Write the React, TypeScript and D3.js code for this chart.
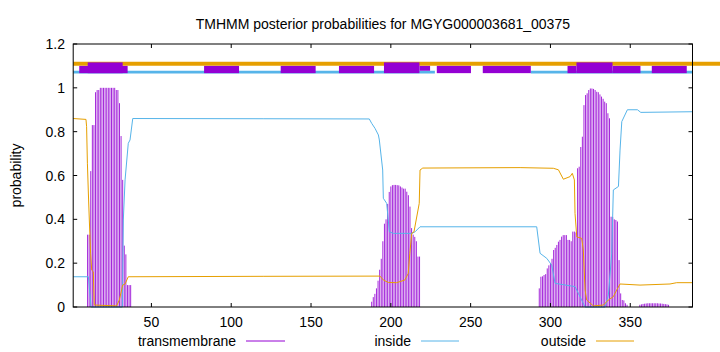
import React from 'react';
import * as d3 from 'd3';

const SEQ_START = 1;
const SEQ_END = 389;
const xTickValues = [50, 100, 150, 200, 250, 300, 350];
const yTickValues = [0, 0.2, 0.4, 0.6, 0.8, 1, 1.2];
const yTickLabels = ['0', '0.2', '0.4', '0.6', '0.8', '1', '1.2'];
const title = 'TMHMM posterior probabilities for MGYG000003681_00375';
const legendNames = ['transmembrane', 'inside', 'outside'];

// transmembrane posterior per residue, in runs: start residue + consecutive values
const tmRun1Start = 10;
const tmRun1 = [0.33, 0.33, 0.62, 0.83, 0.83, 0.98, 0.99, 0.99, 1, 1, 1, 1, 1, 1, 1, 1, 1, 1, 0.99, 0.99,
  0.93, 0.78, 0.58, 0.28, 0.24, 0.1, 0.1, 0.1];
const tmRun2Start = 188;
const tmRun2 = [0.024, 0.045, 0.06, 0.085, 0.12, 0.17, 0.22, 0.3, 0.38, 0.4, 0.47, 0.525, 0.55, 0.556, 0.557,
  0.557, 0.556, 0.555, 0.55, 0.545, 0.54, 0.54, 0.526, 0.51, 0.458, 0.36, 0.33, 0.32, 0.3, 0.23, 0.23];
const tmRun3Start = 293;
const tmRun3 = [0.085, 0.138, 0.14, 0.146, 0.15, 0.176, 0.19, 0.2, 0.22, 0.26, 0.27, 0.283, 0.298, 0.306, 0.321,
  0.328, 0.328, 0.328, 0.306, 0.306, 0.3, 0.344, 0.344, 0.34, 0.633, 0.64, 0.73, 0.777, 0.921, 0.967, 0.975,
  0.99, 0.997, 0.997, 0.995, 0.99, 0.982, 0.98, 0.97, 0.96, 0.95, 0.937, 0.93, 0.884, 0.861, 0.412, 0.41, 0.4,
  0.397, 0.39, 0.214, 0.062, 0.032, 0.03, 0.017, 0.01];
const tmRun4Start = 356;
const tmRun4 = [0.01, 0.012, 0.014, 0.015, 0.016, 0.017, 0.017, 0.017, 0.017, 0.017, 0.017, 0.017, 0.016, 0.016,
  0.015, 0.014, 0.013, 0.012, 0.01];

// inside posterior curve: [residue, probability]
const insideCurve: [number, number][] = [
  [1, 0.138], [10.5, 0.138], [12.2, 0], [31.8, 0], [32.4, 0.397], [33.5, 0.58], [35.5, 0.747], [36.6, 0.762],
  [38.3, 0.86], [120, 0.859], [186.5, 0.858], [188, 0.838], [190.1, 0.815], [192.2, 0.785], [192.8, 0.762],
  [194.9, 0.625], [195.3, 0.496], [197.4, 0.473], [199.1, 0.343], [201.6, 0.336], [213.1, 0.336],
  [215.2, 0.343], [218.3, 0.366], [291.4, 0.366], [293.5, 0.245], [297.7, 0.222], [300.8, 0.191],
  [302.9, 0.108], [315.4, 0.093], [317.5, 0.062], [321.7, 0], [334.2, 0], [336.3, 0.055], [338.4, 0.245],
  [339.4, 0.534], [342.6, 0.55], [343.6, 0.716], [344.7, 0.846], [348.2, 0.9], [354.5, 0.9], [356.6, 0.888],
  [389, 0.891],
];

// outside posterior curve: [residue, probability]
const outsideCurve: [number, number][] = [
  [1, 0.86], [9.0, 0.856], [9.4, 0.823], [9.9, 0.656], [10.5, 0.52], [11.1, 0.397], [11.9, 0.245],
  [12.6, 0.168], [13.6, 0.161], [14.2, 0.009], [28.2, 0.005], [29.9, 0.032], [32.0, 0.1], [33.5, 0.105],
  [35.5, 0.138], [120, 0.14], [193.2, 0.141], [195.3, 0.123], [198.4, 0.112], [203.6, 0.111], [208.8, 0.123],
  [210.9, 0.153], [211.9, 0.245], [213.1, 0.336], [214.5, 0.343], [217.8, 0.473], [218.3, 0.625],
  [220, 0.634], [281, 0.636], [301.8, 0.633], [305, 0.626], [308.1, 0.583], [312.3, 0.595], [313.7, 0.61],
  [315, 0.58], [315.4, 0.427], [316.5, 0.32], [319.6, 0.313], [320.6, 0.26], [321.7, 0.077], [322.7, 0.032],
  [326.9, 0.005], [333.2, 0.009], [336.3, 0.032], [339.4, 0.047], [341.5, 0.077], [343.6, 0.105],
  [356.1, 0.1], [374.9, 0.105], [379.1, 0.111], [389, 0.111],
];

// topology band at the top (residue ranges)
const bandOutsideLevel = 1.11;
const bandInsideLevel = 1.07;
const bandInsideSegments: [number, number][] = [[1, 227.6], [287.7, 389]];
const bandThinBoxes: [number, number][] = [
  [4.8, 35.1], [83, 104.9], [131, 152.9], [167.5, 189.5], [228.8, 250.2], [257.6, 287.7],
  [310.7, 316.3], [338.9, 356.4], [363.5, 385.4],
];
const bandShortBoxes: [number, number][] = [[217.9, 224.6]];
const bandThickBoxes: [number, number][] = [[10.1, 32.0], [195.7, 217.9], [316.3, 338.9]];

const W = 720;
const H = 352;
const M = { left: 73.2, right: 692.5, top: 44, bottom: 307 };
const PURPLE = '#9400D3';
const BLUE = '#56B4E9';
const ORANGE = '#E69F00';
const FONT = '"Liberation Sans", Arial, sans-serif';
const FS = 14;

function runToPoints(start: number, vals: number[]): [number, number][] {
  return vals.map((v, i) => [start + i, v]);
}

export default function App() {
  const x = d3.scaleLinear().domain([SEQ_START, SEQ_END]).range([M.left, M.right]);
  const y = d3.scaleLinear().domain([0, 1.2]).range([M.bottom, M.top]);
  const line = d3.line<[number, number]>().x(d => x(d[0])).y(d => y(d[1]));

  const tm = [
    ...runToPoints(tmRun1Start, tmRun1),
    ...runToPoints(tmRun2Start, tmRun2),
    ...runToPoints(tmRun3Start, tmRun3),
    ...runToPoints(tmRun4Start, tmRun4),
  ];

  const tickLen = 4;
  const legendY = 341;
  const legendItems = [
    { name: legendNames[0], color: PURPLE, textEnd: 236, l0: 246, l1: 285 },
    { name: legendNames[1], color: BLUE, textEnd: 411, l0: 421, l1: 459 },
    { name: legendNames[2], color: ORANGE, textEnd: 586, l0: 596, l1: 634 },
  ];

  return (
    <svg width={W} height={H} style={{ position: 'absolute', left: 0, top: 0, background: '#fff' }}
      fontFamily={FONT} fontSize={FS}>
      <rect x={0} y={0} width={W} height={H} fill="#fff" />
      <text x={(M.left + M.right) / 2} y={29} textAnchor="middle" fill="#000">{title}</text>

      {/* impulses */}
      <g stroke={PURPLE} strokeWidth={0.85}>
        {tm.map(([r, v], i) => (
          <line key={i} x1={x(r)} x2={x(r)} y1={y(0)} y2={y(v)} />
        ))}
      </g>
      <path d={line(insideCurve) || ''} fill="none" stroke={BLUE} strokeWidth={1} />
      <path d={line(outsideCurve) || ''} fill="none" stroke={ORANGE} strokeWidth={1} />

      {/* topology band */}
      <line x1={x(SEQ_START)} x2={W} y1={y(bandOutsideLevel)} y2={y(bandOutsideLevel)} stroke={ORANGE} strokeWidth={4} />
      {bandInsideSegments.map(([a, b], i) => (
        <line key={'bi' + i} x1={x(a)} x2={x(b)} y1={y(bandInsideLevel) - 0.3} y2={y(bandInsideLevel) - 0.3} stroke={BLUE} strokeWidth={2.7} />
      ))}
      {bandThinBoxes.map(([a, b], i) => (
        <rect key={'bt' + i} x={x(a)} width={x(b) - x(a)} y={y(1.1)} height={y(1.067) - y(1.1)} fill={PURPLE} />
      ))}
      {bandShortBoxes.map(([a, b], i) => (
        <rect key={'bs' + i} x={x(a)} width={x(b) - x(a)} y={y(1.1)} height={y(1.078) - y(1.1)} fill={PURPLE} />
      ))}
      {bandThickBoxes.map(([a, b], i) => (
        <rect key={'bk' + i} x={x(a)} width={x(b) - x(a)} y={y(1.116)} height={y(1.067) - y(1.116)} fill={PURPLE} />
      ))}

      {/* frame and ticks */}
      <rect x={M.left} y={M.top} width={M.right - M.left} height={M.bottom - M.top} fill="none" stroke="#000" strokeWidth={1} />
      {xTickValues.map(t => (
        <g key={'xt' + t}>
          <line x1={x(t)} x2={x(t)} y1={M.bottom} y2={M.bottom - tickLen} stroke="#000" />
          <line x1={x(t)} x2={x(t)} y1={M.top} y2={M.top + tickLen} stroke="#000" />
          <text x={x(t)} y={327} textAnchor="middle" fill="#000">{t}</text>
        </g>
      ))}
      {yTickValues.map((t, i) => (
        <g key={'yt' + t}>
          <line x1={M.left} x2={M.left + tickLen} y1={y(t)} y2={y(t)} stroke="#000" />
          <line x1={M.right} x2={M.right - tickLen} y1={y(t)} y2={y(t)} stroke="#000" />
          <text x={65} y={y(t) + 5} textAnchor="end" fill="#000">{yTickLabels[i]}</text>
        </g>
      ))}
      <text transform={`translate(21,${(M.top + M.bottom) / 2}) rotate(-90)`} textAnchor="middle" fill="#000">probability</text>

      {/* legend */}
      {legendItems.map(it => (
        <g key={it.name}>
          <text x={it.textEnd} y={legendY + 5} textAnchor="end" fill="#000">{it.name}</text>
          <line x1={it.l0} x2={it.l1} y1={legendY} y2={legendY} stroke={it.color} strokeWidth={1} />
        </g>
      ))}
    </svg>
  );
}
